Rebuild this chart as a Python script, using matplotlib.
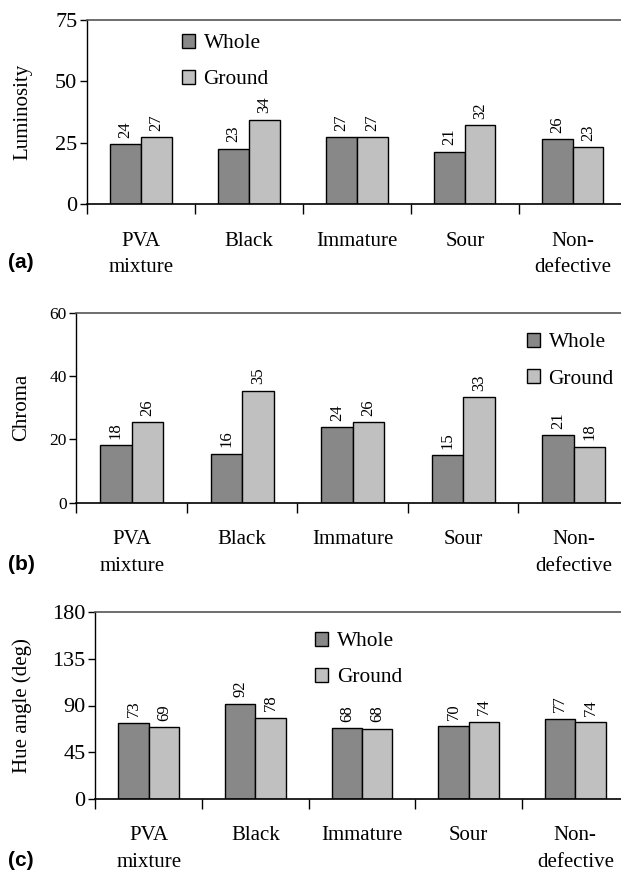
import matplotlib
matplotlib.use('Agg')
import matplotlib.pyplot as plt
import numpy as np

# values
categories = ['PVA\nmixture', 'Black', 'Immature', 'Sour', 'Non-\ndefective']
lum_whole = [24.4, 22.6, 27.4, 21.3, 26.4]
lum_ground = [27.4, 34.4, 27.4, 32.3, 23.2]
chroma_whole = [18.1, 15.5, 23.8, 15.0, 21.4]
chroma_ground = [25.5, 35.4, 25.5, 33.4, 17.7]
hue_whole = [73.1, 91.7, 68.4, 70.2, 77.3]
hue_ground = [68.9, 78.4, 67.6, 74.4, 73.6]

plt.rcParams['font.family'] = ['Liberation Serif', 'DejaVu Serif']

W, H = 621, 876
fig = plt.figure(figsize=(W / 100, H / 100), dpi=100)

panels = [
    # rect (px), whole, ground, ymax, yticks, ylabel, ylabel x, tick size, legend anchor, tag, tag y
    ([87.1, 20, 626.7, 204], lum_whole, lum_ground, 75, [0, 25, 50, 75],
     'Luminosity', 23, 16, (0.1755, 0.925), '(a)', 263),
    ([76.4, 312.7, 629, 502.7], chroma_whole, chroma_ground, 60, [0, 20, 40, 60],
     'Chroma', 22, 12.5, (0.815, 0.893), '(b)', 565),
    ([95.4, 612.3, 628.6, 798.7], hue_whole, hue_ground, 180, [0, 45, 90, 135, 180],
     'Hue angle (deg)', 22.5, 16, (0.4118, 0.895), '(c)', 861),
]

x = np.arange(len(categories)) + 0.5
bw = 0.284

for rect, whole, ground, ymax, yt, ylab, ylx, tsz, lanchor, tag, tagy in panels:
    l, t, r, b = rect
    ax = fig.add_axes([l / W, 1 - b / H, (r - l) / W, (b - t) / H])
    b1 = ax.bar(x - bw / 2, whole, bw, color='#888888', edgecolor='black',
                linewidth=1, label='Whole')
    b2 = ax.bar(x + bw / 2, ground, bw, color='#c0c0c0', edgecolor='black',
                linewidth=1, label='Ground')
    for bars, vals in ((b1, whole), (b2, ground)):
        for bar, v in zip(bars, vals):
            ax.annotate('%.0f' % v, (bar.get_x() + bar.get_width() / 2, v),
                        xytext=(0, 4.5), textcoords='offset points',
                        ha='center', va='bottom', rotation=90, fontsize=12)
    ax.set_xlim(0, 5)
    ax.set_ylim(0, ymax)
    ax.set_yticks(yt)
    ax.tick_params(axis='y', labelsize=tsz, length=5, width=1, direction='out', pad=2)
    ax.set_xticks(range(5))
    ax.set_xticklabels([])
    ax.tick_params(axis='x', which='major', length=7, width=1, direction='out')
    ax.set_xticks(x, minor=True)
    ax.set_xticklabels(categories, minor=True, fontsize=15, linespacing=1.55)
    ax.tick_params(axis='x', which='minor', length=0, pad=20)
    fig.text(ylx / W, 1 - (t + b) / 2 / H, ylab, rotation=90, fontsize=15,
             ha='center', va='center')
    ax.spines['right'].set_visible(False)
    ax.spines['top'].set_color('#555555')
    ax.spines['top'].set_linewidth(1.2)
    ax.spines['left'].set_linewidth(1)
    ax.spines['bottom'].set_linewidth(1.2)
    ax.legend(loc='upper left', bbox_to_anchor=lanchor, frameon=False,
              fontsize=15.4, borderpad=0, handlelength=0.62, handleheight=0.62,
              handletextpad=0.4, labelspacing=0.78, borderaxespad=0)
    fig.text(8 / W, 1 - tagy / H, tag, fontsize=15, fontweight='bold',
             family='Liberation Sans', va='center', ha='left')

fig.savefig('out.png', dpi=100)
